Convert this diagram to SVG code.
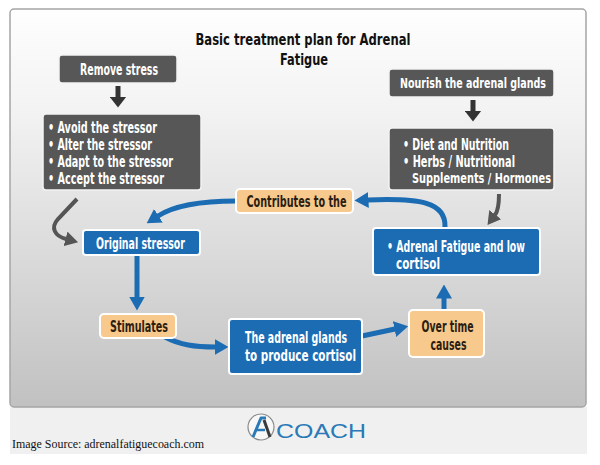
<svg xmlns="http://www.w3.org/2000/svg" width="600" height="465" viewBox="0 0 600 465">
<defs>
<linearGradient id="bg" x1="0" y1="0" x2="0" y2="1">
<stop offset="0" stop-color="#fefefe"/>
<stop offset="0.25" stop-color="#f3f3f3"/>
<stop offset="1" stop-color="#c1c1c1"/>
</linearGradient>
<marker id="blueHead" markerUnits="userSpaceOnUse" viewBox="0 0 14 16" markerWidth="14" markerHeight="16" refX="0.5" refY="8" orient="auto">
<path d="M0,0 L14,8 L0,16 Z" fill="#1b6cb3"/>
</marker>
<marker id="grayHead" markerUnits="userSpaceOnUse" viewBox="0 0 13 15" markerWidth="13" markerHeight="15" refX="0.5" refY="7.5" orient="auto">
<path d="M0,0 L13,7.5 L0,15 Z" fill="#555555"/>
</marker>
<marker id="darkHead" markerUnits="userSpaceOnUse" viewBox="0 0 11 17" markerWidth="11" markerHeight="17" refX="0.5" refY="8.5" orient="auto">
<path d="M0,0 L11,8.5 L0,17 Z" fill="#333333"/>
</marker>
<style>
text { font-family: "Liberation Sans Narrow", "DejaVu Sans Condensed", "Liberation Sans", sans-serif; font-weight: bold; font-size: 15px; }
.title { fill: #111111; font-size: 16.5px; text-anchor: middle; }
.sm { font-size: 14px; }
.dark { fill: #575757; stroke: #f4f4f4; stroke-width: 1.5; }
.blue { fill: #1b6cb3; stroke: #ffffff; stroke-width: 2; }
.orange { fill: #f8c98c; stroke: #ffffff; stroke-width: 2; }
.wt { fill: #ffffff; }
.ot { fill: #2b1d10; }
.mid { text-anchor: middle; }
.bline { fill: none; stroke: #1b6cb3; stroke-width: 5; marker-end: url(#blueHead); }
.gline { fill: none; stroke: #555555; stroke-width: 4; marker-end: url(#grayHead); }
.dline { fill: none; stroke: #333333; stroke-width: 5; marker-end: url(#darkHead); }
</style>
</defs>

<rect x="0" y="0" width="600" height="465" fill="#ffffff"/>
<rect x="10" y="407" width="577" height="47" fill="#f0f0f0"/>
<rect x="10" y="9" width="576" height="398" rx="4" fill="url(#bg)" stroke="#a5a5a5" stroke-width="1.5"/>

<g id="title">
<text class="title" x="303" y="45" textLength="215" lengthAdjust="spacingAndGlyphs">Basic treatment plan for Adrenal</text>
<text class="title" x="304" y="64.5" textLength="48" lengthAdjust="spacingAndGlyphs">Fatigue</text>
</g>

<g id="connectors">
<path class="dline" d="M118,86 L118,97"/>
<path class="dline" d="M473,100 L473,111"/>
<path class="gline" d="M77,199 L58,219 C50,228 55,236 66,239"/>
<path class="gline" d="M499,194 C499,205 498,211 495,215"/>
<path class="bline" d="M236,201 C200,201 175,205 158,216"/>
<path class="bline" d="M445,227 C446,202 420,198 368,200"/>
<path class="bline" d="M137,256 L137,297"/>
<path class="bline" d="M165,337 C180,345 195,347 215,347"/>
<path class="bline" d="M362,336 L395,329"/>
<path class="bline" d="M444,310 L444,298"/>
</g>

<g id="remove-stress">
<rect class="dark" x="59" y="55" width="118" height="28" rx="3"/>
<text class="wt mid" x="119" y="75" textLength="78" lengthAdjust="spacingAndGlyphs">Remove stress</text>
</g>

<g id="stress-options">
<rect class="dark" x="43" y="114" width="158" height="76" rx="3"/>
<text class="wt" x="48" y="133" textLength="109" lengthAdjust="spacingAndGlyphs">• Avoid the stressor</text>
<text class="wt" x="48" y="150" textLength="104" lengthAdjust="spacingAndGlyphs">• Alter the stressor</text>
<text class="wt" x="48" y="167" textLength="125" lengthAdjust="spacingAndGlyphs">• Adapt to the stressor</text>
<text class="wt" x="48" y="183.5" textLength="116" lengthAdjust="spacingAndGlyphs">• Accept the stressor</text>
</g>

<g id="nourish">
<rect class="dark" x="389" y="69" width="165" height="28" rx="3"/>
<text class="wt mid sm" x="473" y="88" textLength="146" lengthAdjust="spacingAndGlyphs">Nourish the adrenal glands</text>
</g>

<g id="nourish-options">
<rect class="dark" x="389" y="128" width="165" height="62" rx="3"/>
<text class="wt" x="403" y="150" textLength="106" lengthAdjust="spacingAndGlyphs">• Diet and Nutrition</text>
<text class="wt" x="403" y="166.5" textLength="112" lengthAdjust="spacingAndGlyphs">• Herbs / Nutritional</text>
<text class="wt sm" x="412" y="183" textLength="139" lengthAdjust="spacingAndGlyphs">Supplements / Hormones</text>
</g>

<g id="contributes">
<rect class="orange" x="236" y="189" width="117" height="24" rx="4"/>
<text class="ot mid" x="296.5" y="206.5" textLength="100" lengthAdjust="spacingAndGlyphs">Contributes to the</text>
</g>

<g id="adrenal-fatigue">
<rect class="blue" x="373" y="228" width="167" height="47" rx="3"/>
<text class="wt" x="387" y="252" textLength="138" lengthAdjust="spacingAndGlyphs">• Adrenal Fatigue and low</text>
<text class="wt" x="396" y="268.5" textLength="44" lengthAdjust="spacingAndGlyphs">cortisol</text>
</g>

<g id="original-stressor">
<rect class="blue" x="83" y="230" width="117" height="25" rx="3"/>
<text class="wt mid" x="140.5" y="248.5" textLength="89" lengthAdjust="spacingAndGlyphs">Original stressor</text>
</g>

<g id="stimulates">
<rect class="orange" x="100" y="314" width="76" height="24" rx="4"/>
<text class="ot mid" x="139" y="331.5" textLength="58" lengthAdjust="spacingAndGlyphs">Stimulates</text>
</g>

<g id="adrenal-glands">
<rect class="blue" x="229" y="319" width="133" height="55" rx="3"/>
<text class="wt" x="245" y="343" textLength="102" lengthAdjust="spacingAndGlyphs">The adrenal glands</text>
<text class="wt" x="245" y="360.5" textLength="111" lengthAdjust="spacingAndGlyphs">to produce cortisol</text>
</g>

<g id="over-time">
<rect class="orange" x="409" y="310" width="75" height="47" rx="4"/>
<text class="ot mid" x="447.5" y="332" textLength="52" lengthAdjust="spacingAndGlyphs">Over time</text>
<text class="ot mid" x="448.5" y="349.5" textLength="36" lengthAdjust="spacingAndGlyphs">causes</text>
</g>

<g id="footer">
<circle cx="261" cy="427" r="13" fill="#f7f7f7" stroke="#8a8a8a" stroke-width="1.2"/>
<path d="M253,437 L261,418 L266,418" fill="none" stroke="#2a7ab8" stroke-width="3" stroke-linejoin="round"/>
<path d="M256,430 L265,430" fill="none" stroke="#2a7ab8" stroke-width="2.5"/>
<path d="M264,420 L270,437" fill="none" stroke="#3a3a3a" stroke-width="3"/>
<text x="276" y="438" fill="#2a7ab8" textLength="90" lengthAdjust="spacingAndGlyphs" style="font-family:'Liberation Sans','DejaVu Sans',sans-serif;font-weight:normal;font-size:20px;">COACH</text>
<text x="12" y="448" fill="#111111" textLength="192" lengthAdjust="spacingAndGlyphs" style="font-family:'Liberation Serif','DejaVu Serif',serif;font-weight:normal;font-size:13px;">Image Source: adrenalfatiguecoach.com</text>
</g>
</svg>
